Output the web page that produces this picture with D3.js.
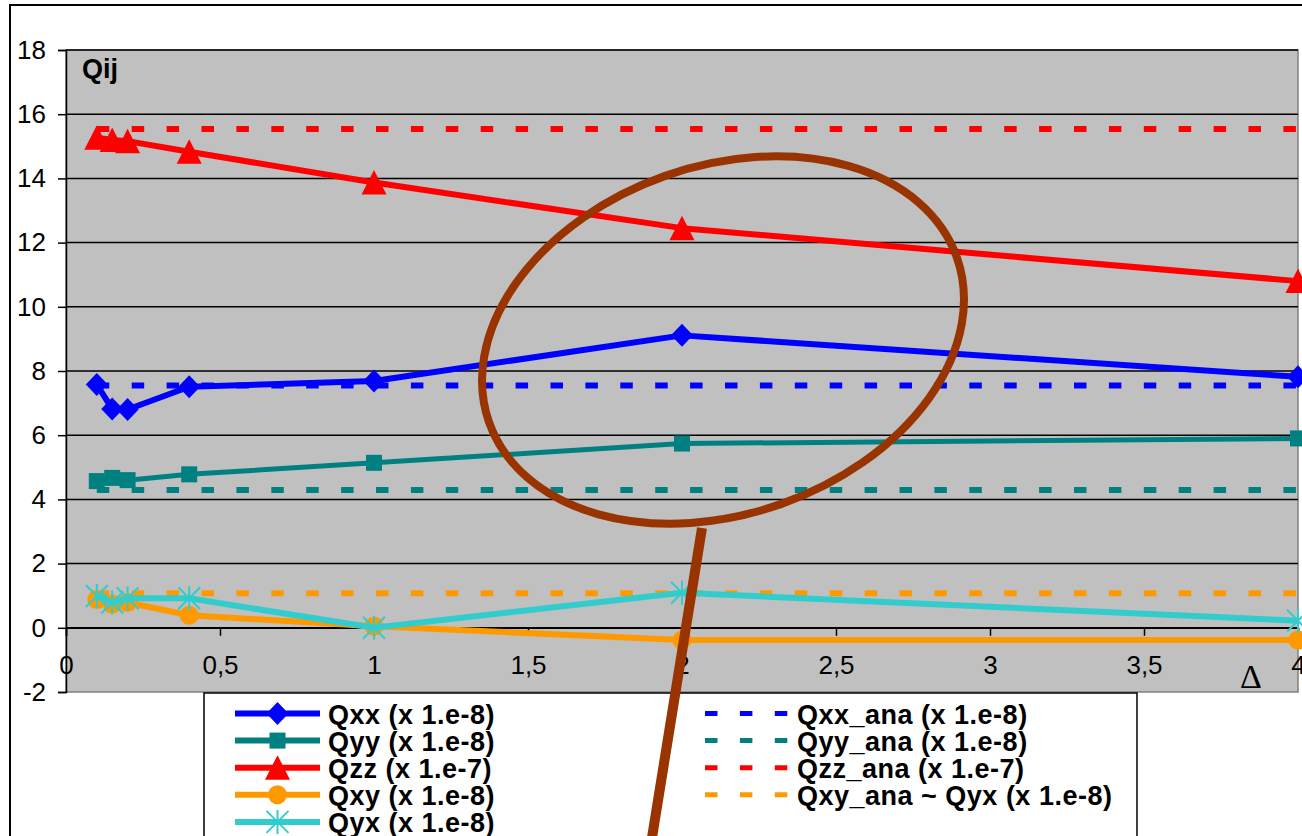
<!DOCTYPE html>
<html>
<head>
<meta charset="utf-8">
<script src="https://cdn.jsdelivr.net/npm/d3@7"></script>
<style>
  html, body { margin: 0; padding: 0; background: #fff; }
  svg { display: block; }
</style>
</head>
<body>
<svg id="chart" width="1302" height="836"></svg>
<script>
// Quadrupole components versus mesh parameter Δ
const deltas = [0.1, 0.15, 0.2, 0.4, 1, 2, 4];
const qxx = [7.58, 6.82, 6.80, 7.51, 7.69, 9.11, 7.82];
const qyy = [4.57, 4.67, 4.60, 4.78, 5.14, 5.74, 5.90];
const qzz = [15.27, 15.20, 15.16, 14.83, 13.87, 12.45, 10.80];
const qxy = [0.88, 0.73, 0.79, 0.39, 0.05, -0.38, -0.38];
const qyx = [0.99, 0.79, 0.92, 0.92, 0.00, 1.09, 0.22];

// analytic reference values (constant over Δ)
const qxxAna = 7.55;
const qyyAna = 4.29;
const qzzAna = 15.54;
const qxyAna = 1.08;

const yTicks = [-2, 0, 2, 4, 6, 8, 10, 12, 14, 16, 18];
const xTicks = [0, 0.5, 1, 1.5, 2, 2.5, 3, 3.5, 4];
const xTickLabels = ["0", "0,5", "1", "1,5", "2", "2,5", "3", "3,5", "4"];

const seriesNames = ["Qxx (x 1.e-8)", "Qyy (x 1.e-8)", "Qzz (x 1.e-7)", "Qxy (x 1.e-8)", "Qyx (x 1.e-8)"];
const anaNames = ["Qxx_ana (x 1.e-8)", "Qyy_ana (x 1.e-8)", "Qzz_ana (x 1.e-7)", "Qxy_ana ~ Qyx (x 1.e-8)"];

const svg = d3.select("#chart");
const plot = { left: 66, right: 1298, top: 50, bottom: 692 };

const x = d3.scaleLinear().domain([0, 4]).range([plot.left, plot.right]);
const y = d3.scaleLinear().domain([-2, 18]).range([plot.bottom, plot.top]);

// chart frame
svg.append("rect").attr("x", 10).attr("y", 5).attr("width", 1310).attr("height", 900)
  .attr("fill", "#fff").attr("stroke", "#000").attr("stroke-width", 2);

// plot area
svg.append("rect")
  .attr("x", plot.left).attr("y", plot.top)
  .attr("width", plot.right - plot.left).attr("height", plot.bottom - plot.top)
  .attr("fill", "#C0C0C0").attr("stroke", "#808080").attr("stroke-width", 1.5);

// horizontal gridlines
svg.append("g").selectAll("line").data(yTicks.filter(v => v > -2))
  .join("line")
  .attr("x1", plot.left).attr("x2", plot.right)
  .attr("y1", d => y(d)).attr("y2", d => y(d))
  .attr("stroke", "#000").attr("stroke-width", 1.5);

// y axis
const yAxis = d3.axisLeft(y).tickValues(yTicks).tickSize(8).tickPadding(12).tickFormat(d => String(d));
svg.append("g").attr("transform", `translate(${plot.left},0)`).call(yAxis)
  .call(g => g.select(".domain").attr("stroke", "#000").attr("stroke-width", 1.5))
  .call(g => g.selectAll(".tick line").attr("stroke", "#000").attr("stroke-width", 1.5))
  .call(g => g.selectAll("text").attr("font-family", "Liberation Sans, Arial, sans-serif")
    .attr("font-size", 26).attr("fill", "#000"));

// x axis sitting at zero
const xAxis = d3.axisBottom(x).tickValues(xTicks).tickSize(8).tickPadding(20)
  .tickFormat((d, i) => xTickLabels[i]);
svg.append("g").attr("transform", `translate(0,${y(0)})`).call(xAxis)
  .call(g => g.select(".domain").attr("stroke", "#000").attr("stroke-width", 1.5))
  .call(g => g.selectAll(".tick line").attr("stroke", "#000").attr("stroke-width", 1.5))
  .call(g => g.selectAll("text").attr("font-family", "Liberation Sans, Arial, sans-serif")
    .attr("font-size", 26).attr("fill", "#000"));

// axis captions
svg.append("text").attr("x", 82).attr("y", 78).text("Qij")
  .attr("font-family", "Liberation Sans, Arial, sans-serif").attr("font-size", 27).attr("font-weight", "bold");
svg.append("text").attr("x", 1251).attr("y", 688).attr("text-anchor", "middle").text("Δ")
  .attr("font-family", "Liberation Serif, Times New Roman, serif").attr("font-size", 34);

// marker shapes
const markers = {
  diamond: (g, c) => g.append("path").attr("d", "M0,-11.5L11,0L0,11.5L-11,0Z").attr("fill", c),
  square: (g, c) => g.append("rect").attr("x", -8).attr("y", -8).attr("width", 16).attr("height", 16).attr("fill", c),
  triangle: (g, c) => g.append("path").attr("d", "M0,-12.5L12.5,12L-12.5,12Z").attr("fill", c),
  circle: (g, c) => g.append("circle").attr("r", 9.5).attr("fill", c),
  star: (g, c) => g.append("path").attr("d", "M0,-12V12M-11,-11L11,11M11,-11L-11,11")
    .attr("stroke", c).attr("stroke-width", 2).attr("fill", "none")
};

const series = [
  { name: seriesNames[0], values: qxx, color: "#0000FF", width: 6, marker: "diamond" },
  { name: seriesNames[1], values: qyy, color: "#008080", width: 5, marker: "square" },
  { name: seriesNames[2], values: qzz, color: "#FF0000", width: 6, marker: "triangle" },
  { name: seriesNames[3], values: qxy, color: "#FF9900", width: 6, marker: "circle" },
  { name: seriesNames[4], values: qyx, color: "#33CCCC", width: 6, marker: "star" }
];
const anaSeries = [
  { name: anaNames[0], value: qxxAna, color: "#0000FF" },
  { name: anaNames[1], value: qyyAna, color: "#008080" },
  { name: anaNames[2], value: qzzAna, color: "#FF0000" },
  { name: anaNames[3], value: qxyAna, color: "#FF9900" }
];

const line = d3.line().x(d => x(d[0])).y(d => y(d[1]));
const dash = "12.5,22.4";

// analytic dashed lines
anaSeries.forEach(s => {
  svg.append("path").attr("d", line(deltas.map(d => [d, s.value])))
    .attr("fill", "none").attr("stroke", s.color).attr("stroke-width", 6)
    .attr("stroke-dasharray", dash);
});

// computed series: line then markers
series.forEach(s => {
  const pts = deltas.map((d, i) => [d, s.values[i]]);
  svg.append("path").attr("d", line(pts))
    .attr("fill", "none").attr("stroke", s.color).attr("stroke-width", s.width)
    .attr("stroke-linejoin", "round");
  const mg = svg.append("g");
  pts.forEach(p => {
    const g = mg.append("g").attr("transform", `translate(${x(p[0])},${y(p[1])})`);
    markers[s.marker](g, s.color);
  });
});

// legend
const legend = svg.append("g");
legend.append("rect").attr("x", 204).attr("y", 693).attr("width", 933).attr("height", 200)
  .attr("fill", "#fff").attr("stroke", "#000").attr("stroke-width", 1.5);
const rowY = i => 713.5 + i * 27.1;
const legendFont = g => g.attr("font-family", "Liberation Sans, Arial, sans-serif")
  .attr("font-size", 27).attr("letter-spacing", 0.5).attr("font-weight", "bold").attr("fill", "#000");

series.forEach((s, i) => {
  const yy = rowY(i);
  legend.append("line").attr("x1", 235).attr("x2", 320).attr("y1", yy).attr("y2", yy)
    .attr("stroke", s.color).attr("stroke-width", 6);
  const g = legend.append("g").attr("transform", `translate(277.5,${yy})`);
  markers[s.marker](g, s.color);
  legend.append("text").attr("x", 328).attr("y", yy + 10.5).text(s.name).call(legendFont);
});
anaSeries.forEach((s, i) => {
  const yy = rowY(i);
  legend.append("line").attr("x1", 705).attr("x2", 790).attr("y1", yy).attr("y2", yy)
    .attr("stroke", s.color).attr("stroke-width", 5).attr("stroke-dasharray", dash);
  legend.append("text").attr("x", 797).attr("y", yy + 10.5).text(s.name).call(legendFont);
});

// highlight ring around the peak region and its pointer
svg.append("ellipse").attr("cx", 723).attr("cy", 340).attr("rx", 248).attr("ry", 174)
  .attr("transform", "rotate(-19.4,723,340)")
  .attr("fill", "none").attr("stroke", "#993300").attr("stroke-width", 8);
svg.append("line").attr("x1", 702).attr("y1", 528).attr("x2", 650).attr("y2", 850)
  .attr("stroke", "#993300").attr("stroke-width", 10);
</script>
</body>
</html>
